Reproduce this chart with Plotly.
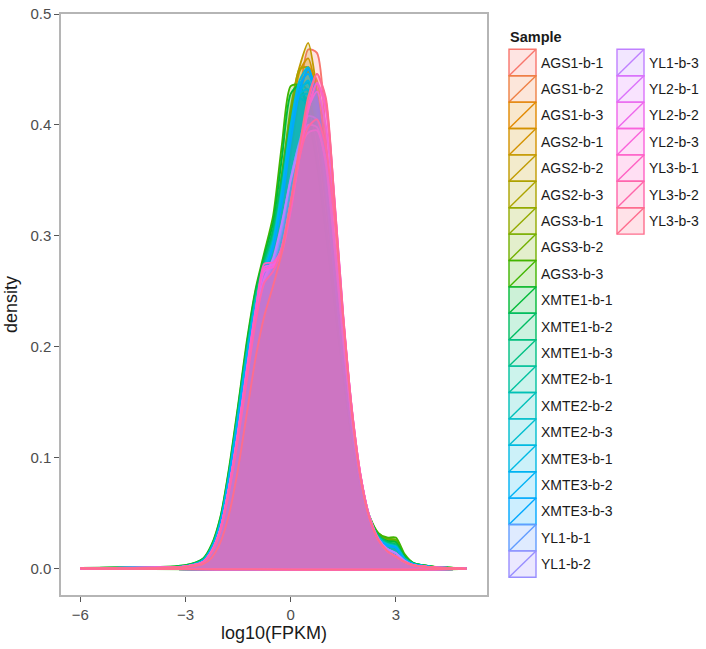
import math
import plotly.graph_objects as go

# ---------------- data ----------------
SAMPLES = ["AGS1-b-1", "AGS1-b-2", "AGS1-b-3", "AGS2-b-1", "AGS2-b-2", "AGS2-b-3",
           "AGS3-b-1", "AGS3-b-2", "AGS3-b-3", "XMTE1-b-1", "XMTE1-b-2", "XMTE1-b-3",
           "XMTE2-b-1", "XMTE2-b-2", "XMTE2-b-3", "XMTE3-b-1", "XMTE3-b-2", "XMTE3-b-3",
           "YL1-b-1", "YL1-b-2", "YL1-b-3", "YL2-b-1", "YL2-b-2", "YL2-b-3",
           "YL3-b-1", "YL3-b-2", "YL3-b-3"]

X_GRID = [-6, -5, -4, -3, -2.5, -2.25, -2, -1.75, -1.5, -1.25, -1, -0.75, -0.5, -0.25, 0,
          0.25, 0.5, 0.75, 1, 1.25, 1.5, 1.75, 2, 2.25, 2.5, 2.75, 3, 3.25, 3.5, 4, 4.5, 5]

AGS1_B_1 = [0.0004, 0.0006, 0.0008, 0.002, 0.006, 0.016, 0.036, 0.075, 0.125, 0.18, 0.23, 0.26, 0.28, 0.32, 0.375, 0.425, 0.468, 0.465, 0.39, 0.29, 0.2, 0.13, 0.08, 0.045, 0.027, 0.02, 0.016, 0.008, 0.004, 0.0015, 0.0006, 0.0002]
AGS1_B_2 = [0.0004, 0.0006, 0.0008, 0.002, 0.006, 0.017, 0.038, 0.078, 0.128, 0.183, 0.232, 0.262, 0.284, 0.325, 0.38, 0.425, 0.452, 0.44, 0.375, 0.285, 0.198, 0.128, 0.078, 0.045, 0.027, 0.02, 0.017, 0.008, 0.004, 0.0015, 0.0006, 0.0002]
AGS1_B_3 = [0.0004, 0.0006, 0.0008, 0.002, 0.006, 0.017, 0.039, 0.08, 0.13, 0.186, 0.235, 0.265, 0.29, 0.33, 0.39, 0.435, 0.448, 0.428, 0.365, 0.28, 0.195, 0.127, 0.077, 0.044, 0.027, 0.02, 0.018, 0.008, 0.004, 0.0015, 0.0006, 0.0002]
AGS2_B_1 = [0.0004, 0.0006, 0.0009, 0.002, 0.007, 0.018, 0.04, 0.082, 0.132, 0.188, 0.236, 0.266, 0.292, 0.34, 0.4, 0.448, 0.46, 0.425, 0.355, 0.27, 0.19, 0.124, 0.076, 0.044, 0.028, 0.022, 0.02, 0.009, 0.004, 0.0015, 0.0006, 0.0002]
AGS2_B_2 = [0.0004, 0.0006, 0.0009, 0.002, 0.007, 0.018, 0.04, 0.08, 0.13, 0.186, 0.234, 0.264, 0.29, 0.35, 0.415, 0.452, 0.474, 0.43, 0.355, 0.268, 0.188, 0.123, 0.075, 0.043, 0.028, 0.022, 0.02, 0.009, 0.004, 0.0015, 0.0006, 0.0002]
AGS2_B_3 = [0.0004, 0.0006, 0.0009, 0.002, 0.007, 0.019, 0.041, 0.083, 0.134, 0.19, 0.238, 0.268, 0.295, 0.345, 0.405, 0.45, 0.452, 0.415, 0.35, 0.268, 0.188, 0.123, 0.075, 0.044, 0.029, 0.023, 0.021, 0.009, 0.004, 0.0015, 0.0006, 0.0002]
AGS3_B_1 = [0.0004, 0.0007, 0.001, 0.0025, 0.008, 0.02, 0.043, 0.087, 0.14, 0.196, 0.243, 0.274, 0.302, 0.355, 0.41, 0.438, 0.43, 0.395, 0.335, 0.26, 0.185, 0.122, 0.076, 0.046, 0.031, 0.026, 0.025, 0.011, 0.005, 0.002, 0.0007, 0.0002]
AGS3_B_2 = [0.0004, 0.0007, 0.001, 0.0025, 0.008, 0.02, 0.044, 0.088, 0.142, 0.198, 0.245, 0.277, 0.305, 0.355, 0.405, 0.428, 0.422, 0.39, 0.333, 0.26, 0.186, 0.123, 0.077, 0.047, 0.032, 0.027, 0.026, 0.012, 0.005, 0.002, 0.0007, 0.0002]
AGS3_B_3 = [0.0005, 0.0007, 0.001, 0.003, 0.009, 0.022, 0.047, 0.092, 0.147, 0.205, 0.252, 0.285, 0.318, 0.382, 0.435, 0.436, 0.408, 0.365, 0.305, 0.24, 0.175, 0.117, 0.075, 0.047, 0.032, 0.028, 0.028, 0.013, 0.005, 0.002, 0.0008, 0.0003]
XMTE1_B_1 = [0.0005, 0.0007, 0.001, 0.003, 0.009, 0.021, 0.046, 0.09, 0.145, 0.202, 0.25, 0.282, 0.312, 0.37, 0.428, 0.436, 0.413, 0.372, 0.31, 0.243, 0.176, 0.117, 0.074, 0.045, 0.03, 0.025, 0.024, 0.011, 0.005, 0.002, 0.0007, 0.0002]
XMTE1_B_2 = [0.0004, 0.0007, 0.001, 0.0025, 0.008, 0.02, 0.044, 0.088, 0.142, 0.198, 0.246, 0.278, 0.305, 0.352, 0.4, 0.424, 0.418, 0.39, 0.335, 0.262, 0.188, 0.124, 0.077, 0.046, 0.03, 0.024, 0.022, 0.01, 0.005, 0.002, 0.0007, 0.0002]
XMTE1_B_3 = [0.0004, 0.0007, 0.001, 0.0025, 0.008, 0.02, 0.043, 0.086, 0.14, 0.196, 0.244, 0.275, 0.3, 0.345, 0.395, 0.425, 0.428, 0.398, 0.34, 0.265, 0.19, 0.125, 0.077, 0.045, 0.029, 0.023, 0.021, 0.009, 0.004, 0.0015, 0.0006, 0.0002]
XMTE2_B_1 = [0.0004, 0.0006, 0.0009, 0.002, 0.007, 0.019, 0.042, 0.085, 0.138, 0.194, 0.242, 0.272, 0.296, 0.34, 0.395, 0.432, 0.438, 0.405, 0.345, 0.265, 0.188, 0.124, 0.076, 0.044, 0.028, 0.022, 0.02, 0.009, 0.004, 0.0015, 0.0006, 0.0002]
XMTE2_B_2 = [0.0004, 0.0006, 0.0009, 0.002, 0.007, 0.019, 0.042, 0.085, 0.138, 0.194, 0.242, 0.272, 0.297, 0.342, 0.395, 0.428, 0.432, 0.402, 0.343, 0.265, 0.188, 0.124, 0.076, 0.044, 0.028, 0.022, 0.02, 0.009, 0.004, 0.0015, 0.0006, 0.0002]
XMTE2_B_3 = [0.0004, 0.0006, 0.0009, 0.002, 0.007, 0.018, 0.041, 0.083, 0.135, 0.19, 0.238, 0.268, 0.293, 0.337, 0.39, 0.428, 0.44, 0.41, 0.35, 0.268, 0.19, 0.124, 0.076, 0.044, 0.028, 0.022, 0.02, 0.009, 0.004, 0.0015, 0.0006, 0.0002]
XMTE3_B_1 = [0.0004, 0.0006, 0.0009, 0.002, 0.007, 0.018, 0.041, 0.083, 0.135, 0.19, 0.238, 0.268, 0.293, 0.34, 0.4, 0.44, 0.452, 0.42, 0.352, 0.268, 0.188, 0.123, 0.075, 0.043, 0.027, 0.021, 0.019, 0.008, 0.004, 0.0015, 0.0006, 0.0002]
XMTE3_B_2 = [0.0004, 0.0006, 0.0009, 0.002, 0.007, 0.018, 0.041, 0.083, 0.135, 0.19, 0.238, 0.268, 0.293, 0.338, 0.395, 0.436, 0.446, 0.415, 0.35, 0.268, 0.188, 0.123, 0.075, 0.043, 0.027, 0.021, 0.019, 0.008, 0.004, 0.0015, 0.0006, 0.0002]
XMTE3_B_3 = [0.0004, 0.0006, 0.0009, 0.002, 0.007, 0.018, 0.04, 0.082, 0.133, 0.188, 0.236, 0.266, 0.29, 0.33, 0.385, 0.43, 0.45, 0.425, 0.36, 0.272, 0.19, 0.124, 0.075, 0.043, 0.027, 0.021, 0.019, 0.008, 0.004, 0.0015, 0.0006, 0.0002]
YL1_B_1 = [0.0004, 0.0006, 0.0009, 0.002, 0.006, 0.016, 0.036, 0.074, 0.122, 0.176, 0.226, 0.258, 0.275, 0.305, 0.35, 0.385, 0.408, 0.405, 0.37, 0.29, 0.205, 0.132, 0.08, 0.046, 0.027, 0.018, 0.014, 0.007, 0.003, 0.0012, 0.0005, 0.0002]
YL1_B_2 = [0.0004, 0.0006, 0.0009, 0.002, 0.006, 0.016, 0.036, 0.074, 0.122, 0.176, 0.227, 0.26, 0.278, 0.31, 0.352, 0.383, 0.4, 0.398, 0.365, 0.29, 0.206, 0.133, 0.081, 0.047, 0.027, 0.018, 0.014, 0.007, 0.003, 0.0012, 0.0005, 0.0002]
YL1_B_3 = [0.0004, 0.0006, 0.0009, 0.002, 0.006, 0.016, 0.036, 0.074, 0.122, 0.176, 0.228, 0.262, 0.28, 0.312, 0.35, 0.378, 0.393, 0.395, 0.368, 0.295, 0.21, 0.135, 0.082, 0.047, 0.027, 0.018, 0.014, 0.007, 0.003, 0.0012, 0.0005, 0.0002]
YL2_B_1 = [0.0004, 0.0006, 0.0008, 0.002, 0.006, 0.016, 0.036, 0.074, 0.122, 0.178, 0.23, 0.268, 0.272, 0.29, 0.33, 0.375, 0.415, 0.43, 0.4, 0.32, 0.222, 0.14, 0.082, 0.046, 0.026, 0.016, 0.011, 0.006, 0.003, 0.0012, 0.0005, 0.0002]
YL2_B_2 = [0.0004, 0.0006, 0.0008, 0.002, 0.006, 0.016, 0.036, 0.074, 0.122, 0.178, 0.232, 0.272, 0.274, 0.288, 0.325, 0.372, 0.415, 0.438, 0.415, 0.33, 0.226, 0.142, 0.083, 0.046, 0.026, 0.016, 0.011, 0.006, 0.003, 0.0012, 0.0005, 0.0002]
YL2_B_3 = [0.0004, 0.0006, 0.0008, 0.002, 0.006, 0.016, 0.036, 0.075, 0.124, 0.18, 0.233, 0.27, 0.272, 0.285, 0.322, 0.37, 0.413, 0.437, 0.417, 0.333, 0.228, 0.143, 0.083, 0.046, 0.026, 0.016, 0.011, 0.006, 0.003, 0.0012, 0.0005, 0.0002]
YL3_B_1 = [0.0004, 0.0006, 0.0008, 0.002, 0.006, 0.016, 0.036, 0.074, 0.122, 0.178, 0.232, 0.275, 0.276, 0.288, 0.325, 0.372, 0.42, 0.446, 0.422, 0.333, 0.228, 0.143, 0.083, 0.046, 0.026, 0.016, 0.011, 0.006, 0.003, 0.0012, 0.0005, 0.0002]
YL3_B_2 = [0.0004, 0.0006, 0.0008, 0.002, 0.006, 0.015, 0.034, 0.07, 0.117, 0.17, 0.222, 0.258, 0.268, 0.29, 0.33, 0.37, 0.398, 0.405, 0.38, 0.315, 0.225, 0.142, 0.083, 0.046, 0.026, 0.016, 0.011, 0.006, 0.003, 0.0012, 0.0005, 0.0002]
YL3_B_3 = [0.0003, 0.0004, 0.0006, 0.0015, 0.004, 0.01, 0.024, 0.05, 0.09, 0.14, 0.19, 0.228, 0.255, 0.285, 0.33, 0.38, 0.425, 0.446, 0.425, 0.33, 0.225, 0.14, 0.08, 0.045, 0.026, 0.016, 0.011, 0.006, 0.003, 0.0012, 0.0005, 0.0002]

DENSITIES = [AGS1_B_1, AGS1_B_2, AGS1_B_3, AGS2_B_1, AGS2_B_2, AGS2_B_3,
             AGS3_B_1, AGS3_B_2, AGS3_B_3, XMTE1_B_1, XMTE1_B_2, XMTE1_B_3,
             XMTE2_B_1, XMTE2_B_2, XMTE2_B_3, XMTE3_B_1, XMTE3_B_2, XMTE3_B_3,
             YL1_B_1, YL1_B_2, YL1_B_3, YL2_B_1, YL2_B_2, YL2_B_3,
             YL3_B_1, YL3_B_2, YL3_B_3]

X_TICKS = [-6, -3, 0, 3]
Y_TICKS = [0.0, 0.1, 0.2, 0.3, 0.4, 0.5]


# ---------------- ggplot hue palette ----------------
def hcl_rgb(h, c=100.0, l=65.0):
    hr = math.radians(h)
    U, V = c * math.cos(hr), c * math.sin(hr)
    Y = ((l + 16) / 116) ** 3 if l > 7.999592 else l / 903.3
    u = U / (13 * l) + 0.1978398
    v = V / (13 * l) + 0.4683363
    X = 9.0 * Y * u / (4 * v)
    Z = -X / 3 - 5 * Y + 3 * Y / v

    def g(t):
        t = 1.055 * t ** (1 / 2.4) - 0.055 if t > 0.00304 else 12.92 * t
        return int(round(255 * min(1.0, max(0.0, t))))
    r = g(3.240479 * X - 1.537150 * Y - 0.498535 * Z)
    gg = g(-0.969256 * X + 1.875992 * Y + 0.041556 * Z)
    b = g(0.055648 * X - 0.204043 * Y + 1.057311 * Z)
    return r, gg, b


n = len(SAMPLES)
COLORS = [hcl_rgb(15 + 360.0 / n * i) for i in range(n)]
ALPHA = 0.2

fig = go.Figure()
for name, dens, (r, g, b) in zip(SAMPLES, DENSITIES, COLORS):
    xs = list(X_GRID) + [X_GRID[-1], X_GRID[0]]
    ys = list(dens) + [0, 0]
    fig.add_trace(go.Scatter(
        x=xs, y=ys, name=name, mode="lines", fill="toself",
        fillcolor=f"rgba({r},{g},{b},{ALPHA})",
        line=dict(color=f"rgb({r},{g},{b})", width=1.9, shape="spline", smoothing=0.7),
        showlegend=False, hoverinfo="name+x+y"))

# ---------------- layout ----------------
W, H = 706, 649
L, R, T, B = 61, 219, 14, 54
PW, PH = W - L - R, H - T - B
FONT = "Liberation Sans, Arial, Helvetica, sans-serif"


def px(xp):
    return (xp - L) / PW


def py(yp):
    return (H - B - yp) / PH


shapes, annotations = [], []
KEY_W, KEY_H, TOP = 27, 26.4, 49.3
for i, (name, (r, g, b)) in enumerate(zip(SAMPLES, COLORS)):
    col, row = (0, i) if i < 20 else (1, i - 20)
    x0 = 509 if col == 0 else 617
    y0 = TOP + row * KEY_H
    col_line = f"rgb({r},{g},{b})"
    shapes.append(dict(type="rect", xref="paper", yref="paper",
                       x0=px(x0), x1=px(x0 + KEY_W), y0=py(y0), y1=py(y0 + KEY_H),
                       fillcolor=f"rgba({r},{g},{b},{ALPHA})",
                       line=dict(color=col_line, width=1.4)))
    shapes.append(dict(type="line", xref="paper", yref="paper",
                       x0=px(x0), x1=px(x0 + KEY_W), y0=py(y0 + KEY_H), y1=py(y0),
                       line=dict(color=col_line, width=1.4)))
    annotations.append(dict(xref="paper", yref="paper", x=px(x0 + KEY_W + 3), y=py(y0 + KEY_H / 2),
                            text=name, showarrow=False, xanchor="left", yanchor="middle",
                            font=dict(family=FONT, size=14, color="#1a1a1a")))
annotations.append(dict(xref="paper", yref="paper", x=px(508), y=py(37), text="<b>Sample</b>",
                        showarrow=False, xanchor="left", yanchor="middle",
                        font=dict(family=FONT, size=14.5, color="#1a1a1a")))

fig.update_layout(
    width=W, height=H,
    margin=dict(l=L, r=R, t=T, b=B, autoexpand=False),
    paper_bgcolor="white", plot_bgcolor="white",
    font=dict(family=FONT),
    shapes=shapes, annotations=annotations,
    showlegend=False,
    xaxis=dict(range=[-6.55, 5.6], tickvals=X_TICKS, ticktext=[f"{v:d}".replace("-", "\u2212") for v in X_TICKS],
               showgrid=False, zeroline=False, showline=True, mirror=True,
               linecolor="#b5b5b5", linewidth=1.5, ticks="outside", ticklen=5, tickwidth=1.3,
               tickcolor="#555555", tickfont=dict(size=15, color="#4d4d4d"),
               title=dict(text="log10(FPKM)", font=dict(size=18, color="#1a1a1a"), standoff=4)),
    yaxis=dict(range=[-0.0238, 0.5], tickvals=Y_TICKS, ticktext=[f"{v:.1f}" for v in Y_TICKS],
               showgrid=False, zeroline=False, showline=True, mirror=True,
               linecolor="#b5b5b5", linewidth=1.5, ticks="outside", ticklen=5, tickwidth=1.3,
               tickcolor="#555555", tickfont=dict(size=15, color="#4d4d4d"),
               title=dict(text="density", font=dict(size=18, color="#1a1a1a"), standoff=8)),
)

fig.write_html("out.html")
